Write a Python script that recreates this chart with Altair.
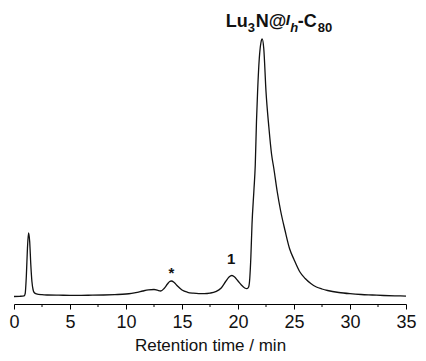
import altair as alt
import pandas as pd

# chromatogram trace (retention time in min, detector signal in arbitrary units)
t = [0.0, 0.5, 0.9, 1.0, 1.1, 1.2, 1.3, 1.4, 1.5, 1.6, 1.7, 1.8, 2.0, 2.5, 3.0, 4.0, 5.0, 6.0,
     7.0, 8.0, 9.0, 10.0, 10.5, 11.0, 11.5, 12.0, 12.5, 12.8, 13.1, 13.4, 13.7, 13.9, 14.05,
     14.3, 14.6, 15.0, 15.5, 16.0, 16.5, 17.0, 17.5, 18.0, 18.5, 18.9, 19.2, 19.45, 19.7,
     20.0, 20.3, 20.6, 20.8, 20.95, 21.05, 21.15, 21.25, 21.42, 21.54, 21.65, 21.75, 21.9,
     22.05, 22.16, 22.3, 22.5, 22.75, 23.0, 23.2, 23.5, 23.8, 24.2, 24.6, 25.0, 25.5, 26.0,
     26.5, 27.0, 27.5, 28.0, 29.0, 30.0, 31.0, 32.0, 33.0, 34.0, 35.0]
signal = [0.0, 0.2, 0.6, 3, 20, 48, 63.5, 55, 32, 15, 7, 4, 2.6, 1.8, 1.5, 1.3, 1.2, 1.2,
          1.3, 1.5, 1.9, 2.5, 3.2, 4.2, 5.5, 6.6, 7.0, 6.3, 5.5, 8, 12.5, 15, 15.5,
          14, 10.5, 6.5, 4.2, 3.3, 2.9, 2.9, 3.4, 4.8, 8.5, 15, 19.5, 21, 19.5,
          15.5, 11.5, 8.5, 7.8, 9.5, 18, 40, 72, 106, 131, 175, 205, 238,
          254, 257.5, 248, 205, 170, 142, 128, 105, 86, 66, 48, 37, 25, 18,
          13, 9.5, 7.5, 6, 4, 2.8, 2.0, 1.5, 1.0, 0.7, 0.4]

major_ticks = [0, 5, 10, 15, 20, 25, 30, 35]
minor_ticks = [2.5, 7.5, 12.5, 17.5, 22.5, 27.5, 32.5]

# peak annotations
ann_text = ["*", "1"]
ann_t = [14.05, 19.4]
ann_v = [19.0, 33.0]

# main-peak label anchor (start of text)
main_label_t = [18.9]
main_label_v = [269.5]

FONT = "Liberation Sans"
x_scale = alt.Scale(domain=[0, 35], nice=False, zero=False)
y_scale = alt.Scale(domain=[-7.5, 288.5], nice=False, zero=False)

trace_df = pd.DataFrame({"t": t, "v": signal})
x_enc = alt.X("t:Q", scale=x_scale,
              axis=alt.Axis(values=major_ticks, format="d", title="Retention time / min",
                            grid=False, tickSize=5, tickColor="black", domainColor="black",
                            labelFontSize=18, labelFont=FONT, labelColor="#111",
                            labelPadding=4, titleFont=FONT, titleFontSize=17,
                            titleFontWeight="normal", titleColor="#111",
                            titleY=46, titleBaseline="alphabetic",
                            labelFlush=False))
y_enc = alt.Y("v:Q", scale=y_scale, axis=None)

line = alt.Chart(trace_df).mark_line(color="#111", strokeWidth=1.3, interpolate="monotone").encode(
    x=x_enc, y=y_enc)

minor = alt.Chart(pd.DataFrame({"m": minor_ticks})).mark_rule(color="black", strokeWidth=1).encode(
    x=alt.X("m:Q", scale=x_scale), y=alt.value(296), y2=alt.value(299))

ann_df = pd.DataFrame({"label": ann_text, "t": ann_t, "v": ann_v})
ann = alt.Chart(ann_df).mark_text(font=FONT, fontWeight="bold", fontSize=15, color="#111",
                                  baseline="alphabetic", align="center").encode(
    x=alt.X("t:Q", scale=x_scale), y=alt.Y("v:Q", scale=y_scale), text="label:N")

lab_df = pd.DataFrame({"t": main_label_t, "v": main_label_v})
pieces = [
    ("Lu", 0, 0, 18, "normal"),
    ("3", 22, 5, 13, "normal"),
    ("N@", 30, 0, 18, "normal"),
    ("I", 60, -2, 15, "italic"),
    ("h", 64.5, 5, 13, "italic"),
    ("-C", 72, 0, 18, "normal"),
    ("80", 92, 5, 13, "normal"),
]
label_layers = []
for txt, dx, dy, fs, style in pieces:
    label_layers.append(
        alt.Chart(lab_df).mark_text(text=txt, dx=dx, dy=dy, fontSize=fs, fontStyle=style,
                                    fontWeight="bold", font=FONT, color="#111",
                                    align="left", baseline="alphabetic").encode(
            x=alt.X("t:Q", scale=x_scale), y=alt.Y("v:Q", scale=y_scale)))

chart = alt.layer(line, minor, ann, *label_layers).properties(
    width=392, height=296,
    padding={"left": 6, "top": 0, "right": 12, "bottom": 49},
    autosize=alt.AutoSizeParams(type="none"),
    background="white",
).configure_view(stroke=None)

chart.save("out.html", embed_options={"renderer": "svg", "actions": False})
